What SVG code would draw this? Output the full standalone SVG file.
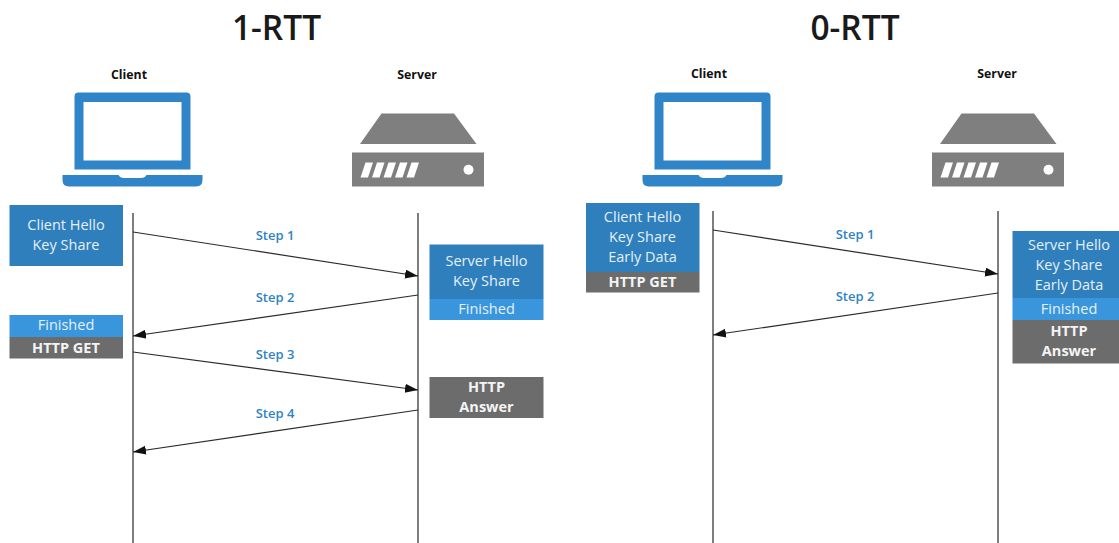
<svg xmlns="http://www.w3.org/2000/svg" width="1119" height="543" viewBox="0 0 1119 543">
<style>
text{font-family:"Open Sans","Liberation Sans",sans-serif;text-anchor:middle}
.title{font-size:33.5px;font-weight:600;fill:#1a1a1a}
.who{font-size:12.300px;font-weight:700;fill:#111}
.step{font-size:13px;font-weight:600;fill:#2f83c4}
.t{font-size:14.5px;fill:#e4f0fa}
.b{font-size:14.5px;font-weight:700;fill:#f4f4f4}
.dark{fill:#2f7fbc}.light{fill:#3a96dc}.grey{fill:#6c6c6c}
.life{stroke:#3a3a3a;stroke-width:1.3;fill:none}
.msg{stroke:#2a2a2a;stroke-width:1.2;fill:none;marker-end:url(#arr)}
</style>
<defs>
<marker id="arr" markerUnits="userSpaceOnUse" markerWidth="14" markerHeight="10" refX="13" refY="4.5" orient="auto"><path d="M0 0L13 4.5L0 9Z" fill="#111"/></marker>
<g id="laptop">
<path fill-rule="evenodd" d="M78.500 92.500H186.500Q190.500 92.500 190.500 96.500V169.500H74.500V96.500Q74.500 92.500 78.500 92.500ZM83.500 102V160.500H181.500V102Z" fill="#2f85c8"/>
<path d="M62.500 175H118.500Q120 178 124 178H141Q145 178 146.500 175H202.500V180Q202.500 186.500 196 186.500H69Q62.500 186.500 62.500 180Z" fill="#2f85c8"/>
</g>
<g id="server">
<path d="M381.500 113.500H454L476.500 144H360Z" fill="#7f7f7f"/>
<path d="M352 152.500H484V186.500H352Z" fill="#7f7f7f"/>
<path d="M365.500 162.500H373L368 177.500H360.500ZM377 162.500H384.500L379.500 177.500H372ZM388.500 162.500H396L391 177.500H383.500ZM400 162.500H407.500L402.500 177.500H395ZM411.500 162.500H419L414 177.500H406.500Z" fill="#fff"/>
<circle cx="468.500" cy="169.700" r="5" fill="#fff"/>
</g>
</defs>
<g id="title-1rtt"><text class="title" x="276.500" y="40">1-RTT</text></g>
<g id="title-0rtt"><text class="title" x="855" y="40">0-RTT</text></g>
<g id="client-1"><text class="who" x="129" y="79">Client</text><use href="#laptop"/></g>
<g id="server-1"><text class="who" x="417" y="79">Server</text><use href="#server"/></g>
<g id="client-2"><text class="who" x="709" y="78">Client</text><use href="#laptop" x="580"/></g>
<g id="server-2"><text class="who" x="997" y="78">Server</text><use href="#server" x="580"/></g>
<g id="connectors">
<path class="life" d="M133 213V543M418 213V543M713 211V543M998 211V543"/>
<path class="msg" d="M133 232L418 276"/>
<path class="msg" d="M418 295L133 336"/>
<path class="msg" d="M133 352L418 390"/>
<path class="msg" d="M418 410L133 452"/>
<path class="msg" d="M713 230L998 274"/>
<path class="msg" d="M998 293L713 335"/>
</g>
<g id="steps">
<text class="step" x="275" y="240">Step 1</text>
<text class="step" x="275" y="302">Step 2</text>
<text class="step" x="275" y="359">Step 3</text>
<text class="step" x="275" y="418">Step 4</text>
<text class="step" x="855" y="239">Step 1</text>
<text class="step" x="855" y="301">Step 2</text>
</g>
<g id="box-client-hello-1"><rect class="dark" x="9.500" y="205" width="113.500" height="61"/><text class="t" x="66" y="230">Client Hello</text><text class="t" x="66" y="250">Key Share</text></g>
<g id="box-client-finished-1"><rect class="light" x="9.500" y="315" width="113.500" height="22"/><text class="t" x="66" y="330">Finished</text></g>
<g id="box-client-get-1"><rect class="grey" x="9.500" y="337" width="113.500" height="21.500"/><text class="b" x="66" y="353">HTTP GET</text></g>
<g id="box-server-hello-1"><rect class="dark" x="429.500" y="244.500" width="114" height="54.500"/><text class="t" x="486.500" y="266">Server Hello</text><text class="t" x="486.500" y="286">Key Share</text></g>
<g id="box-server-finished-1"><rect class="light" x="429.500" y="299" width="114" height="21"/><text class="t" x="486.500" y="314">Finished</text></g>
<g id="box-server-answer-1"><rect class="grey" x="429.500" y="377" width="114" height="41"/><text class="b" x="486.500" y="392">HTTP</text><text class="b" x="486.500" y="412">Answer</text></g>
<g id="box-client-hello-2"><rect class="dark" x="586" y="203" width="113.500" height="69"/><text class="t" x="642.500" y="222">Client Hello</text><text class="t" x="642.500" y="242">Key Share</text><text class="t" x="642.500" y="262">Early Data</text></g>
<g id="box-client-get-2"><rect class="grey" x="586" y="272" width="113.500" height="20.500"/><text class="b" x="642.500" y="286.500">HTTP GET</text></g>
<g id="box-server-hello-2"><rect class="dark" x="1012.500" y="231" width="106.500" height="67"/><text class="t" x="1069" y="250">Server Hello</text><text class="t" x="1069" y="270">Key Share</text><text class="t" x="1069" y="290">Early Data</text></g>
<g id="box-server-finished-2"><rect class="light" x="1012.500" y="298" width="106.500" height="22"/><text class="t" x="1069" y="314">Finished</text></g>
<g id="box-server-answer-2"><rect class="grey" x="1012.500" y="320" width="106.500" height="43.500"/><text class="b" x="1069" y="336">HTTP</text><text class="b" x="1069" y="356">Answer</text></g>
</svg>
